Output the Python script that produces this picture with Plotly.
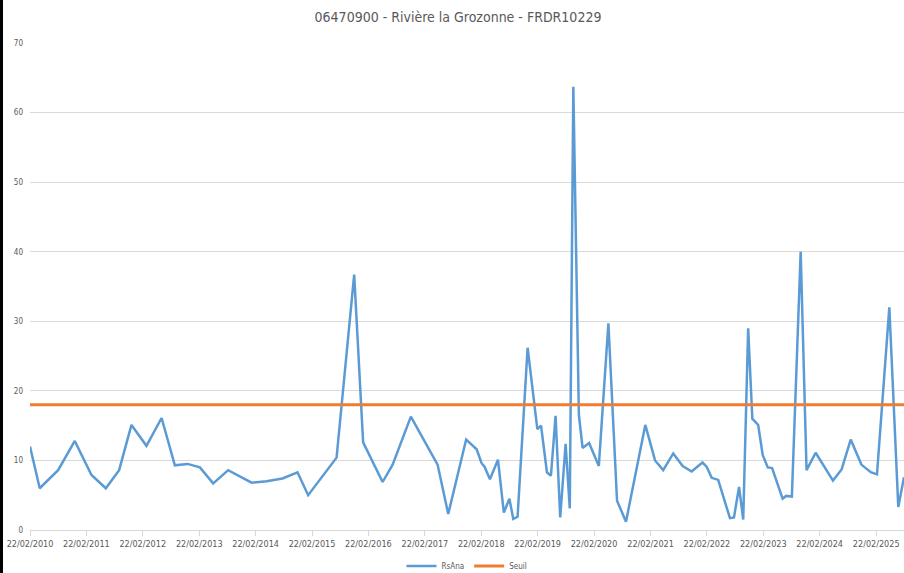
import plotly.graph_objects as go

title_text = "06470900 - Rivière la Grozonne - FRDR10229"

dates = [
    "2010-02-22", "2010-04-26", "2010-08-23", "2010-12-09", "2011-03-27", "2011-06-28",
    "2011-09-22", "2011-12-11", "2012-03-17", "2012-06-23", "2012-09-17", "2012-12-08",
    "2013-02-26", "2013-05-23", "2013-08-28", "2014-01-27", "2014-05-04", "2014-08-15",
    "2014-11-20", "2015-01-28", "2015-07-31", "2015-11-22", "2016-01-19", "2016-05-24",
    "2016-07-28", "2016-11-23", "2017-05-15", "2017-07-23", "2017-11-16", "2018-01-23",
    "2018-02-24", "2018-03-15", "2018-04-19", "2018-06-10", "2018-07-18", "2018-08-23",
    "2018-09-17", "2018-10-15", "2018-12-19", "2019-02-20", "2019-03-16", "2019-04-23",
    "2019-05-19", "2019-06-18", "2019-07-18", "2019-08-22", "2019-09-18", "2019-10-11",
    "2019-11-16", "2019-12-10", "2020-01-21", "2020-03-24", "2020-05-25", "2020-07-20",
    "2020-09-16", "2021-01-19", "2021-03-23", "2021-05-15", "2021-07-19", "2021-09-18",
    "2021-11-15", "2022-01-24", "2022-02-20", "2022-03-25", "2022-05-06", "2022-07-21",
    "2022-08-16", "2022-09-18", "2022-10-15", "2022-11-16", "2022-12-13", "2023-01-20",
    "2023-02-18", "2023-03-23", "2023-04-20", "2023-06-27", "2023-07-20", "2023-08-26",
    "2023-10-22", "2023-11-29", "2024-01-27", "2024-05-18", "2024-07-13", "2024-09-10",
    "2024-11-18", "2025-01-18", "2025-02-27", "2025-05-18", "2025-07-15", "2025-08-21",
]

rsana = [
    12.0, 6.0, 8.6, 12.8, 7.9, 6.0,
    8.6, 15.1, 12.1, 16.1, 9.3, 9.5,
    9.0, 6.7, 8.6, 6.8, 7.0, 7.4,
    8.3, 5.0, 10.4, 36.7, 12.6, 6.9,
    9.4, 16.3, 9.4, 2.3, 13.0, 11.6,
    9.6, 9.1, 7.3, 10.1, 2.5, 4.5,
    1.6, 1.9, 26.2, 14.5, 15.0, 8.3,
    7.8, 16.4, 1.8, 12.4, 3.1, 63.7,
    16.5, 11.8, 12.5, 9.2, 29.7, 4.2,
    1.2, 15.1, 10.0, 8.6, 11.0, 9.2,
    8.4, 9.7, 9.1, 7.5, 7.2, 1.7,
    1.8, 6.2, 1.5, 29.0, 16.0, 15.1,
    10.8, 9.0, 8.9, 4.5, 4.9, 4.8,
    40.0, 8.6, 11.1, 7.1, 8.7, 13.0,
    9.4, 8.3, 8.0, 32.0, 3.3, 7.6,
]

seuil_dates = ["2010-02-22", "2025-08-21"]
seuil_values = [18, 18]

y_ticks = [0, 10, 20, 30, 40, 50, 60, 70]

FONT = "Liberation Sans Narrow, Arial Narrow, DejaVu Sans Condensed, sans-serif"
GREY = "#595959"

fig = go.Figure()
fig.add_trace(go.Scatter(
    x=dates, y=rsana, mode="lines", name="RsAna",
    line=dict(color="#5B9BD5", width=2.5),
))
fig.add_trace(go.Scatter(
    x=seuil_dates, y=seuil_values, mode="lines", name="Seuil",
    line=dict(color="#ED7D31", width=3),
))

fig.update_layout(
    width=904, height=573,
    margin=dict(l=30, r=0, t=43, b=43, autoexpand=False),
    paper_bgcolor="white", plot_bgcolor="white",
    font=dict(family=FONT, color=GREY, size=9),
    title=dict(text=title_text, x=458/904, xanchor="center", y=1 - 17/573, yanchor="middle",
               font=dict(family=FONT, size=14, color=GREY)),
    showlegend=True,
    legend=dict(orientation="h", x=0.5, xanchor="center", y=-0.074, yanchor="middle",
                font=dict(size=8, color=GREY), itemwidth=30, tracegroupgap=0),
    xaxis=dict(
        type="date", range=["2010-02-22", "2025-08-21"], automargin=False,
        tick0="2010-02-22", dtick="M12", tickformat="%d/%m/%Y",
        showgrid=False, showline=True, linecolor="#d9d9d9", linewidth=1,
        ticks="outside", ticklen=5, tickcolor="#d9d9d9",
        tickfont=dict(size=9, color=GREY), zeroline=False,
    ),
    yaxis=dict(
        range=[0, 70], tickvals=y_ticks, showgrid=True, gridcolor="#d9d9d9", gridwidth=1,
        zeroline=False, showline=False, ticks="", automargin=False,
        tickfont=dict(size=8, color=GREY), ticklabelstandoff=6,
    ),
    shapes=[dict(type="line", xref="paper", yref="paper", x0=-28.5/874, x1=-28.5/874,
                 y0=-43/487, y1=1 + 43/487, line=dict(color="black", width=3))],
)

fig.write_html("out.html", config={"displayModeBar": False},
               post_script="document.body.style.margin='0';document.body.style.overflow='hidden';")
